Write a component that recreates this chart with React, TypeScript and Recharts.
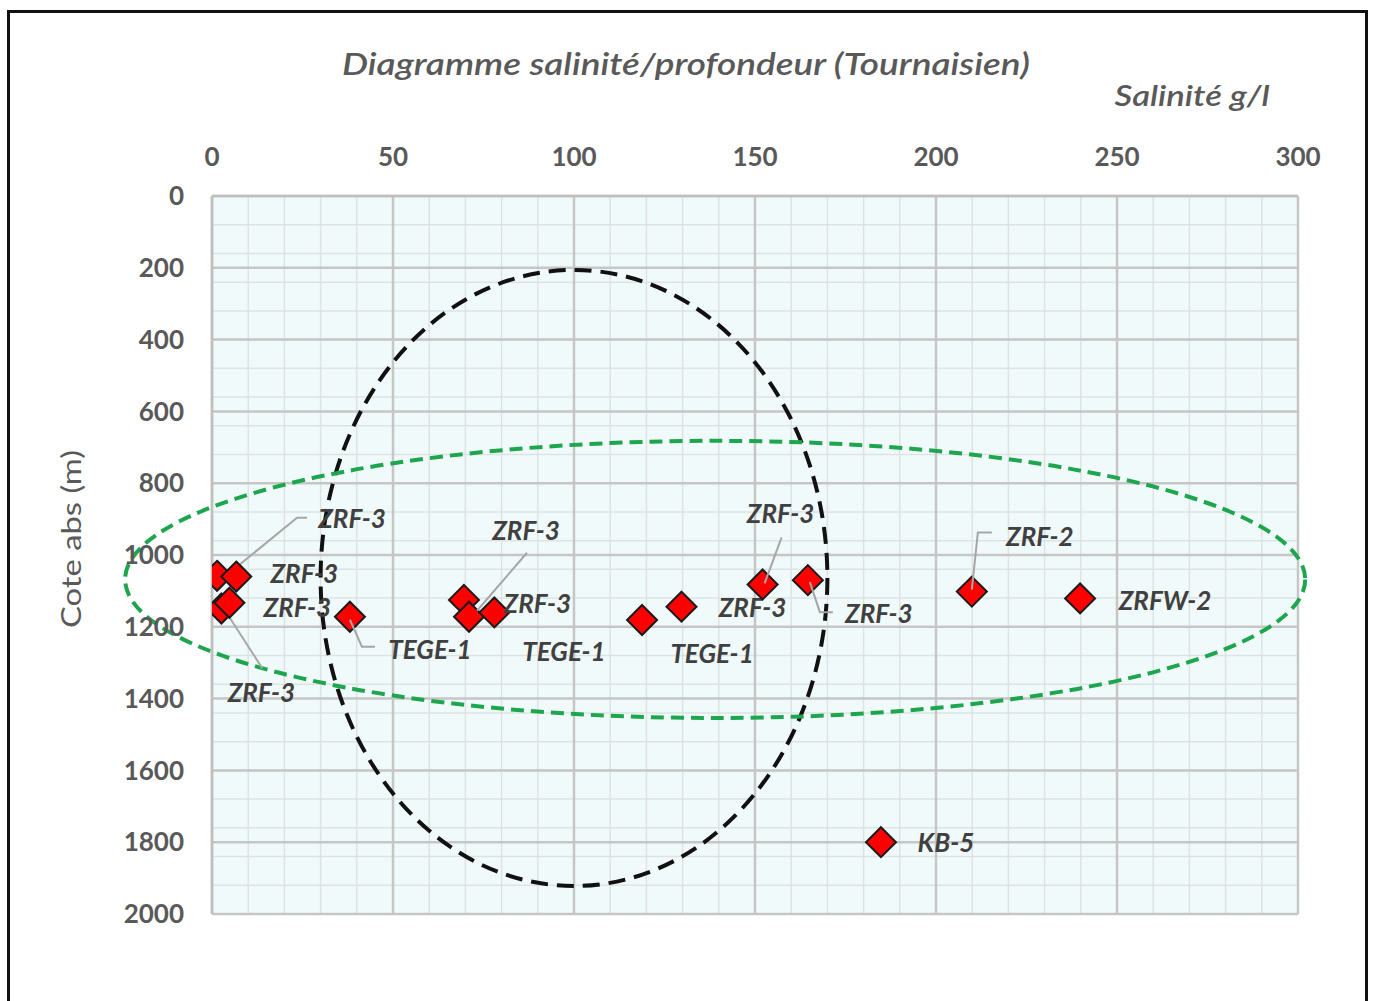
import React from 'react';
import { ScatterChart, Scatter, XAxis, YAxis, CartesianGrid, ReferenceArea, Customized } from 'recharts';

// salinité (g/l) and cote (m)
const salinity = [1.4, 6.7, 2.6, 4.8, 38.1, 69.6, 71.0, 78.0, 118.8, 129.7, 152.1, 164.6, 209.9, 239.8, 184.8];
const depth = [1058, 1060, 1149, 1133, 1172, 1125, 1172, 1160, 1181, 1144, 1082, 1070, 1102, 1121, 1800];
const wells = ['ZRF-3', 'ZRF-3', 'ZRF-3', 'ZRF-3', 'TEGE-1', 'TEGE-1', 'ZRF-3', 'ZRF-3', 'TEGE-1', 'ZRF-3', 'ZRF-3', 'ZRF-3', 'ZRF-2', 'ZRFW-2', 'KB-5'];

const xTicks = [0, 50, 100, 150, 200, 250, 300];
const yTicks = [0, 200, 400, 600, 800, 1000, 1200, 1400, 1600, 1800, 2000];
const xMinorTicks = Array.from({ length: 31 }, (_, i) => i * 10);
const yMinorTicks = Array.from({ length: 51 }, (_, i) => i * 40);

// zones drawn as dashed ellipses (data extents)
const blackZone = { x1: 30, x2: 170, y1: 206, y2: 1922 };
const greenZone = { x1: -24, x2: 302, y1: 682, y2: 1454 };

// label placement relative to marker (px), leader line points
const labelLayout: { dx: number; dy: number; leader?: number[][] }[] = [
  { dx: 135, dy: -58, leader: [[10, -1], [80, -58], [90, -58]] },
  { dx: 68, dy: -4 },
  { dx: 40, dy: 84, leader: [[5, 4], [41, 60]] },
  { dx: 68, dy: 4 },
  { dx: 80, dy: 32, leader: [[0, 3], [12, 30], [25, 30]] },
  { dx: 100, dy: 51 },
  { dx: 57, dy: -87, leader: [[8, -6], [58, -64]] },
  { dx: 43, dy: -9 },
  { dx: 70, dy: 33 },
  { dx: 71, dy: 0 },
  { dx: 18, dy: -71, leader: [[2, -1], [19, -47]] },
  { dx: 71, dy: 33, leader: [[2, 2], [12, 32], [25, 32]] },
  { dx: 68, dy: -56, leader: [[0, -2], [6, -59], [20, -59]] },
  { dx: 85, dy: 2 },
  { dx: 65, dy: 0 },
];

const data = salinity.map((s, i) => ({ salinity: s, depth: depth[i], well: wells[i], idx: i }));

const FONT = 'Lato, "Open Sans", sans-serif';
const TEXT_GRAY = '#595959';

const Diamond = (props: any) => {
  const { cx, cy, payload } = props;
  if (cx == null || cy == null) return null;
  const r = 15;
  const lay = labelLayout[payload.idx];
  return (
    <g>
      <polygon
        points={`${cx},${cy - r} ${cx + r},${cy} ${cx},${cy + r} ${cx - r},${cy}`}
        fill="#ff0000"
        stroke="#1a1a1a"
        strokeWidth={2}
      />
      {lay.leader && (
        <polyline
          points={lay.leader.map(p => `${cx + p[0]},${cy + p[1]}`).join(' ')}
          fill="none"
          stroke="#a6a6a6"
          strokeWidth={2}
        />
      )}
      <text
        x={cx + lay.dx}
        y={cy + lay.dy}
        textAnchor="middle"
        dominantBaseline="central"
        fontFamily={FONT}
        fontStyle="italic"
        fontWeight={700}
        fontSize={26}
        fill="#404040"
      >
        {payload.well}
      </text>
    </g>
  );
};

const ellipseShape = (color: string, width: number, dash: string) => (p: any) => {
  const { x, y, width: w, height: h } = p;
  if (x == null || w == null) return null;
  return (
    <ellipse
      cx={x + w / 2}
      cy={y + h / 2}
      rx={Math.abs(w) / 2}
      ry={Math.abs(h) / 2}
      fill="none"
      stroke={color}
      strokeWidth={width}
      strokeDasharray={dash}
    />
  );
};

const Titles = () => (
  <g fontFamily={FONT} fill={TEXT_GRAY}>
    <text x={686} y={75} textAnchor="middle" fontSize={30} fontStyle="italic" fontWeight={600} textLength={688} lengthAdjust="spacingAndGlyphs">
      Diagramme salinité/profondeur (Tournaisien)
    </text>
    <text x={1192} y={106} textAnchor="middle" fontSize={28} fontStyle="italic" fontWeight={600} textLength={155} lengthAdjust="spacingAndGlyphs">
      Salinité g/l
    </text>
    <text
      x={0}
      y={0}
      transform="translate(81 539) rotate(-90)"
      textAnchor="middle"
      fontSize={26}
      textLength={178}
      lengthAdjust="spacingAndGlyphs"
    >
      Cote abs (m)
    </text>
  </g>
);

export default function App() {
  const tickStyle = { fill: TEXT_GRAY, fontSize: 26, fontWeight: 700, fontFamily: FONT };
  return (
    <div style={{ position: 'absolute', left: 0, top: 0, width: 1373, height: 1001, background: '#fff', overflow: 'hidden' }}>
      <div
        style={{
          position: 'absolute',
          left: 7,
          top: 10,
          width: 1361,
          height: 1010,
          border: '3px solid #111',
          boxSizing: 'border-box',
        }}
      />
      <div style={{ position: 'absolute', left: 0, top: 0 }}>
        <ScatterChart width={1373} height={1001} margin={{ top: 136, right: 75, bottom: 87, left: 62 }}>
          <XAxis
            xAxisId="minor"
            type="number"
            dataKey="salinity"
            orientation="top"
            domain={[0, 300]}
            ticks={xMinorTicks}
            allowDataOverflow
            hide
          />
          <YAxis
            yAxisId="minor"
            type="number"
            dataKey="depth"
            domain={[0, 2000]}
            ticks={yMinorTicks}
            reversed
            allowDataOverflow
            hide
          />
          <XAxis
            type="number"
            dataKey="salinity"
            orientation="top"
            domain={[0, 300]}
            ticks={xTicks}
            allowDataOverflow
            height={60}
            tickLine={false}
            axisLine={{ stroke: '#bfbfbf', strokeWidth: 2.5 }}
            tickMargin={24}
            tick={tickStyle}
            interval={0}
          />
          <YAxis
            type="number"
            dataKey="depth"
            domain={[0, 2000]}
            ticks={yTicks}
            reversed
            allowDataOverflow
            width={150}
            tickLine={false}
            axisLine={{ stroke: '#bfbfbf', strokeWidth: 2.5 }}
            tickMargin={22}
            tick={tickStyle}
            interval={0}
          />
          <CartesianGrid xAxisId="minor" yAxisId="minor" fill="#f1fafa" stroke="#dde3e3" strokeWidth={1.5} />
          <CartesianGrid stroke="#c6c6c6" strokeWidth={2.5} />
          <ReferenceArea
            x1={blackZone.x1}
            x2={blackZone.x2}
            y1={blackZone.y1}
            y2={blackZone.y2}
            ifOverflow="visible"
            shape={ellipseShape('#111111', 4, '17 9')}
          />
          <ReferenceArea
            x1={greenZone.x1}
            x2={greenZone.x2}
            y1={greenZone.y1}
            y2={greenZone.y2}
            ifOverflow="visible"
            shape={ellipseShape('#1ea64e', 4, '13 7')}
          />
          <Scatter data={data} shape={Diamond} isAnimationActive={false} />
          <Customized component={Titles} />
        </ScatterChart>
      </div>
    </div>
  );
}
